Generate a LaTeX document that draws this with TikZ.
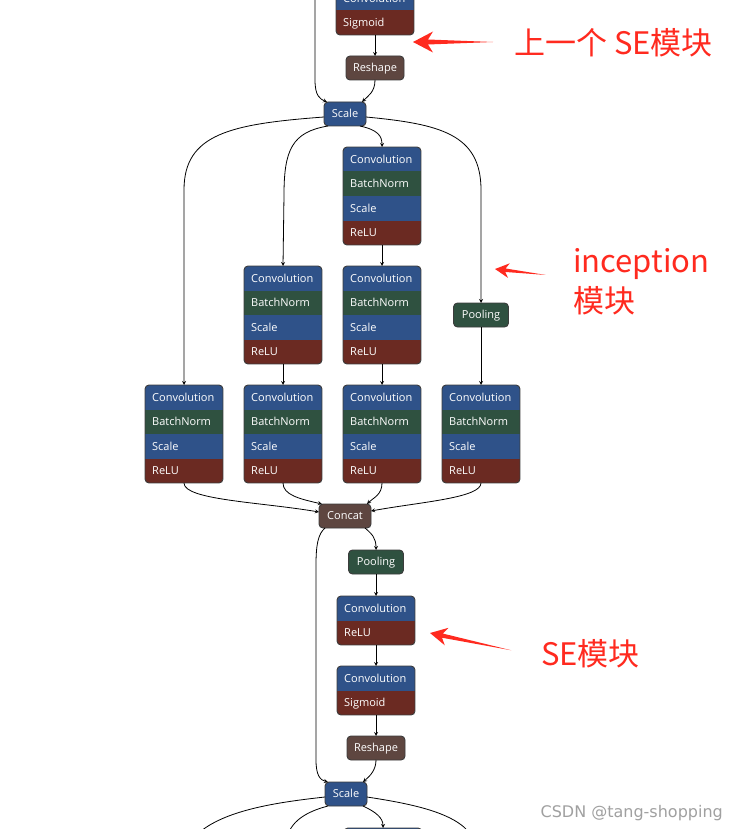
\documentclass[tikz,border=0pt]{standalone}
\usepackage{fontspec}
\setmainfont{Open Sans}
\newfontfamily\cjk{Noto Sans CJK SC}
\newfontfamily\wmfont{DejaVu Sans}
\usepackage{tikz}
\usetikzlibrary{arrows,shapes,calc}
\definecolor{convc}{HTML}{2F5289}
\definecolor{normc}{HTML}{2F5140}
\definecolor{actc}{HTML}{6B2A22}
\definecolor{shapec}{HTML}{5E4640}
\definecolor{boxedge}{HTML}{3C3C3C}
\definecolor{annred}{HTML}{FF2A1F}
\definecolor{wmgray}{HTML}{A0A0A0}
\tikzstyle{boxframe}=[rectangle, minimum width=78pt, inner sep=0pt, outer sep=0pt]
\tikzstyle{boxline}=[draw=boxedge, line width=0.9pt, rounded corners=4pt]
\tikzstyle{rowtext}=[anchor=west, inner sep=0pt, text=white, text height=7.9pt, text depth=0pt, font=\fontsize{11}{13}\selectfont]
\tikzstyle{op}=[draw=boxedge, line width=0.9pt, rounded corners=4pt, text=white, minimum height=24pt, inner sep=0pt, outer sep=0pt, text height=7.9pt, text depth=0pt, font=\fontsize{11}{13}\selectfont]
\tikzstyle{link}=[->, >=stealth, line width=0.8pt]
\tikzstyle{annot}=[text=annred, inner sep=0pt, anchor=base west, font=\cjk\fontsize{31}{40}\selectfont]
\tikzstyle{wmark}=[text=wmgray, inner sep=0pt, anchor=base east, font=\wmfont\fontsize{16}{18}\selectfont]
% stacked layer box: name, top-left corner, number of rows, rows label/colour
\newcommand{\layerbox}[4]{%
  \node[boxframe, minimum height=#3*24.5pt, anchor=north west] (#1) at #2 {};
  \begin{scope}
    \clip[rounded corners=4pt] (#1.north west) rectangle (#1.south east);
    \foreach \lbl/\clr [count=\k from 0] in {#4} {
      \fill[\clr] ($(#1.north west)+(0,\k*24.5)$) rectangle ++(78,24.5);
      \node[rowtext] (#1-\k) at ($(#1.north west)+(7,\k*24.5+12.25)$) {\lbl};
    }
  \end{scope}
  \draw[boxline] (#1.north west) rectangle (#1.south east);
}
% red marker arrow: tip, angle, length, head size
\newcommand{\markarrow}[4]{%
  \fill[annred, shift={#1}, rotate=#2] (0,0) -- (20*#4,-10.5*#4) -- (15*#4,-2.5*#4) -- (#3,0) -- (15*#4,2.5*#4) -- (20*#4,10.5*#4) -- cycle;
}

\begin{document}
\begin{tikzpicture}[x=1pt,y=-1pt]
	\fill[white] (0,0) rectangle (739,829);
	\useasboundingbox (0,0) rectangle (739,829);

	% previous SE block
	\layerbox{se0}{(336,-14)}{2}{Convolution/convc,Sigmoid/actc}
	\node[op, fill=shapec, minimum width=58pt] (rs0) at (375,68) {Reshape};
	\node[op, fill=convc, minimum width=42pt] (sc0) at (345,114) {Scale};
	\coordinate (src) at (315,-10);
	\draw[link] (src) -- (315,80) .. controls (315,96) and (320,99) .. ([xshift=3pt]sc0.north west);
	\draw[link] (se0.south) -- (rs0.north);
	\draw[link] (rs0.south) .. controls (375,92) and (368,96) .. ([xshift=-4pt]sc0.north east);

	% inception block
	\layerbox{t3}{(343,147)}{4}{Convolution/convc,BatchNorm/normc,Scale/convc,ReLU/actc}
	\layerbox{m2}{(244,266)}{4}{Convolution/convc,BatchNorm/normc,Scale/convc,ReLU/actc}
	\layerbox{m3}{(343,266)}{4}{Convolution/convc,BatchNorm/normc,Scale/convc,ReLU/actc}
	\node[op, fill=normc, minimum width=55pt] (pl1) at (481,315) {Pooling};
	\layerbox{u1}{(145,385)}{4}{Convolution/convc,BatchNorm/normc,Scale/convc,ReLU/actc}
	\layerbox{u2}{(244,385)}{4}{Convolution/convc,BatchNorm/normc,Scale/convc,ReLU/actc}
	\layerbox{u3}{(343,385)}{4}{Convolution/convc,BatchNorm/normc,Scale/convc,ReLU/actc}
	\layerbox{u4}{(442,385)}{4}{Convolution/convc,BatchNorm/normc,Scale/convc,ReLU/actc}
	\node[op, fill=shapec, minimum width=52pt] (cc) at (345,516) {Concat};

	\draw[link] ([yshift=-3pt]sc0.west) .. controls (230,124) and (184,134) .. (184,190) -- (u1.north);
	\draw[link] ([xshift=4pt]sc0.south west) .. controls (292,132) and (284,150) .. (284,195) -- (m2.north);
	\draw[link] ([xshift=-6pt]sc0.south east) .. controls (378,130) and (382,136) .. (t3.north);
	\draw[link] ([yshift=-3pt]sc0.east) .. controls (440,124) and (481,134) .. (481,190) -- (pl1.north);
	\draw[link] (t3.south) -- (m3.north);
	\draw[link] (m2.south) -- (u2.north);
	\draw[link] (m3.south) -- (u3.north);
	\draw[link] (pl1.south) -- (u4.north);

	\draw[link] (u1.south) .. controls (184,500) and (260,502) .. ([yshift=4pt]cc.west);
	\draw[link] (u2.south) .. controls (283,495) and (300,499) .. ([xshift=3pt]cc.north west);
	\draw[link] (u3.south) .. controls (382,495) and (373,498) .. ([xshift=-4pt]cc.north east);
	\draw[link] (u4.south) .. controls (481,498) and (420,502) .. ([yshift=5pt]cc.east);

	% SE block
	\node[op, fill=normc, minimum width=55pt] (pl2) at (376,562) {Pooling};
	\layerbox{se1}{(337,596)}{2}{Convolution/convc,ReLU/actc}
	\layerbox{se2}{(337,666)}{2}{Convolution/convc,Sigmoid/actc}
	\node[op, fill=shapec, minimum width=58pt] (rs1) at (376,748) {Reshape};
	\node[op, fill=convc, minimum width=42pt] (sc1) at (346,794) {Scale};

	\draw[link] ([xshift=6pt]cc.south west) .. controls (318,534) and (316,545) .. (316,565) -- (316,760) .. controls (316,775) and (320,780) .. ([xshift=3pt]sc1.north west);
	\draw[link] ([xshift=-6pt]cc.south east) .. controls (372,534) and (376,538) .. (pl2.north);
	\draw[link] (pl2.south) -- (se1.north);
	\draw[link] (se1.south) -- (se2.north);
	\draw[link] (se2.south) -- (rs1.north);
	\draw[link] (rs1.south) .. controls (376,770) and (370,776) .. ([xshift=-4pt]sc1.north east);

	% next block, cut off
	\node[boxframe, fill=convc, draw=boxedge, line width=0.9pt, rounded corners=4pt, minimum height=24.5pt, anchor=north west] (nx) at (344,828) {};
	\coordinate (ob1) at (190,842);
	\coordinate (ob2) at (286,842);
	\coordinate (ob3) at (475,842);
	\draw[link] ([yshift=-3pt]sc1.west) .. controls (270,803) and (215,812) .. (ob1);
	\draw[link] ([xshift=3pt]sc1.south west) .. controls (305,812) and (290,822) .. (ob2);
	\draw[link] ([xshift=-4pt]sc1.south east) .. controls (376,812) and (383,818) .. (nx.north);
	\draw[link] ([yshift=-3pt]sc1.east) .. controls (420,805) and (462,815) .. (ob3);

	% notes
	\markarrow{(413,42)}{0}{80}{1}
	\node[annot] (note0) at (514,55) {上一个 SE模块};
	\markarrow{(495,269)}{-6.7}{51}{0.7}
	\node[annot] (note1) at (573,272) {inception};
	\node[annot] (note2) at (573,312) {模块};
	\markarrow{(430,633)}{-12}{83}{0.85}
	\node[annot] (note3) at (541,665) {SE模块};
	\node[wmark] (wm) at (723,817) {CSDN @tang-shopping};
\end{tikzpicture}
\end{document}
